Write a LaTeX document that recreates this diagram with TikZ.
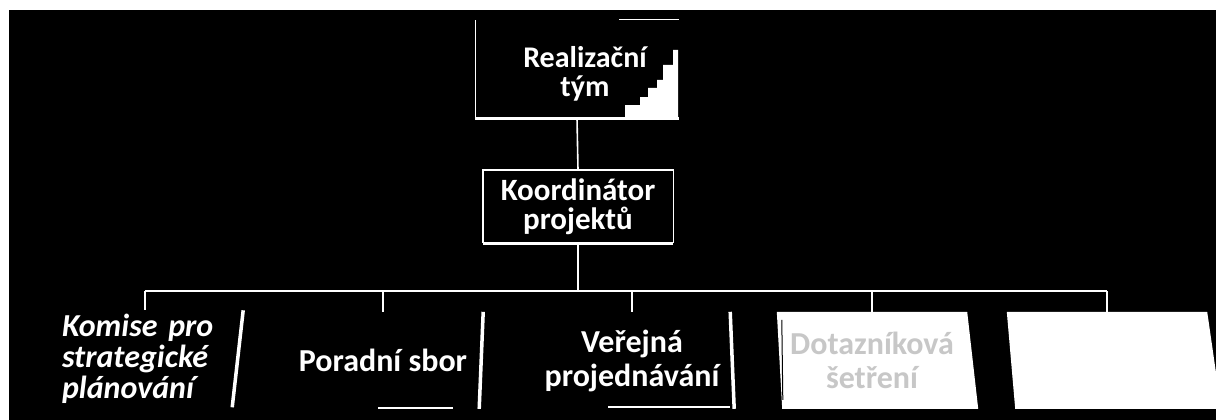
\documentclass[tikz,border=0pt]{standalone}
\usepackage{fontspec}
\setmainfont{Carlito}
\begin{document}
\begin{tikzpicture}[x=1pt,y=-1pt,
  conn/.style={draw=white, line width=1.6},
  lbl/.style={text=white, font=\bfseries\fontsize{32}{34}\selectfont, align=center},
  uplbl/.style={lbl, font=\bfseries\fontsize{30}{29}\selectfont, inner sep=0},
  slot/.style={lbl, minimum height=97, inner sep=0},
  edge/.style={draw=white, line width=3.5},
  paper/.style={fill=white}]
\useasboundingbox (0,0) rectangle (1216,420);
\fill[white] (0,0) rectangle (1216,420);
\fill[black] (9,10) rectangle (1216,420);
% top box
\node[minimum width=203, minimum height=98, inner sep=0] (rt) at (577,69) {};
\draw[white, line width=1.4] (rt.south west) -- (rt.north west) (rt.north east) -- ++(-60,0);
\draw[white, line width=3] (rt.south west) -- (rt.south east);
\fill[white] (678,50) -- (673,50) -- (673,65) -- (663,65) -- (663,80) -- (657,80) -- (657,88)
  -- (648,88) -- (648,97) -- (640,97) -- (640,105) -- (625,105) -- (625,118) -- (678,118) -- cycle;
\node[uplbl] (rtl) at (585,74) {Realizační\\tým};
% coordinator
\node[uplbl, font=\bfseries\fontsize{31}{29}\selectfont, minimum width=190, minimum height=73] (ko) at (578,206.5) {Koordinátor\\projektů};
\draw[white, line width=1.4] (ko.south west) -- (ko.north west) -- (ko.north east) -- (ko.south east);
\draw[white, line width=3] (ko.south west) -- (ko.south east);
\draw[conn] (rt.south) -- (ko.north);
% bottom slots
\coordinate (busy) at (0,291);
\node[slot, minimum width=196, text width=166, align=left, font=\bfseries\itshape\fontsize{32}{31}\selectfont] (b1) at (145,359) {Komise pro\\strategické\\plánování};
\node[slot, minimum width=196] (b2) at (383,360.5) {Poradní sbor};
\node[slot, minimum width=196] (b3) at (632,360.5) {Veřejná\\projednávání};
\node[minimum width=190, minimum height=97, inner sep=0] (b4) at (872,360.5) {};
\node[minimum width=200, minimum height=97, inner sep=0] (b5) at (1107,360.5) {};
\fill[paper] (b4.north west) -- (b4.north east) -- ++(11,97) -- ++(-196,0) -- cycle;
\fill[paper] (b5.north west) -- (b5.north east) -- ++(14,97) -- ++(-206,0) -- cycle;
\draw[black, line width=1] (b4.north west) ++(5,8) -- ++(1,80);
\node[lbl, text=black!22] (b4l) at (b4) {Dotazníková\\šetření};
\draw[edge] (b1.north east) -- ++(-11,97);
\draw[edge] (b2.north east) ++(2,0) -- ++(-4,97);
\draw[edge] (b3.north east) -- ++(4,97);
\draw[white, line width=1.5] (378,408) -- (453,408) (608,407) -- (730,407);
% connectors
\draw[conn] (ko.south) -- (ko.south |- busy);
\draw[conn] (b1.north |- busy) -- (b5.north |- busy);
\foreach \b in {b1,b2,b3,b4,b5} { \draw[conn] (\b.north |- busy) -- (\b.north); }
\end{tikzpicture}
\end{document}
